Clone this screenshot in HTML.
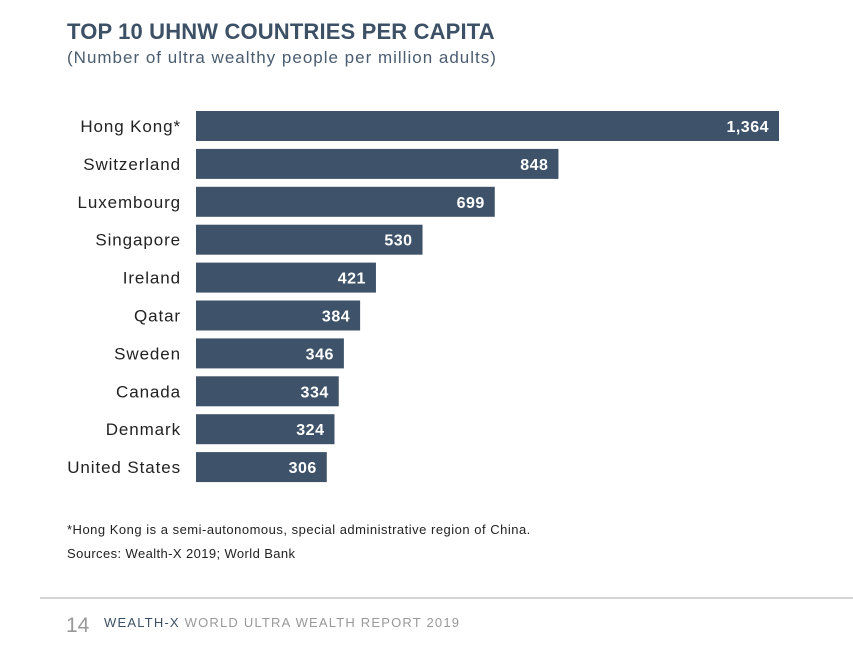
<!DOCTYPE html>
<html><head><meta charset="utf-8"><style>
body{margin:0;width:853px;height:650px;background:#fff;font-family:"Liberation Sans",sans-serif;overflow:hidden;position:relative}
.t{position:absolute;white-space:nowrap}
</style></head><body>
<div class="t" style="left:67px;top:19px;font-size:22px;font-weight:bold;color:#3d5166;letter-spacing:0.15px">TOP 10 UHNW COUNTRIES PER CAPITA</div>
<div class="t" style="left:67px;top:48px;font-size:17px;color:#4a5d70;letter-spacing:1px">(Number of ultra wealthy people per million adults)</div>
<svg id="chart" width="853" height="500" style="position:absolute;left:0;top:0"></svg>
<div class="t" style="left:67px;top:522px;font-size:13px;color:#222;letter-spacing:0.5px">*Hong Kong is a semi-autonomous, special administrative region of China.</div>
<div class="t" style="left:67px;top:546px;font-size:13px;color:#222;letter-spacing:0.4px">Sources: Wealth-X 2019; World Bank</div>
<div style="position:absolute;left:40px;top:597px;width:813px;height:2px;background:#d5d5d5"></div>
<div class="t" style="left:66px;top:614px;font-size:21px;color:#999">14</div>
<div class="t" style="left:104px;top:615px;font-size:13px;letter-spacing:1.2px;color:#999"><span style="color:#3d5166">WEALTH-X</span> WORLD ULTRA WEALTH REPORT 2019</div>
<script>
const categories=["Hong Kong*","Switzerland","Luxembourg","Singapore","Ireland","Qatar","Sweden","Canada","Denmark","United States"];
const values=[1364,848,699,530,421,384,346,334,324,306];
const valueLabels=["1,364","848","699","530","421","384","346","334","324","306"];
const svg=document.getElementById('chart');
const NS='http://www.w3.org/2000/svg';
const x0=196, scale=583/1364;
function xPos(v){return x0+v*scale;}
function yPos(i){return 111+i*37.9;}
const bh=30;
categories.forEach((c,i)=>{
  const y=yPos(i);
  const r=document.createElementNS(NS,'rect');
  r.setAttribute('x',x0);r.setAttribute('y',y);
  r.setAttribute('width',xPos(values[i])-x0);r.setAttribute('height',bh);
  r.setAttribute('fill','#3e5369');
  
  
  svg.appendChild(r);
  const l=document.createElementNS(NS,'text');
  l.setAttribute('x',181);l.setAttribute('y',y+bh/2+6);
  l.setAttribute('text-anchor','end');l.setAttribute('font-size','17');l.setAttribute('fill','#222');
  l.setAttribute('letter-spacing','0.9');
  l.textContent=c;
  
  
  svg.appendChild(l);
  const v=document.createElementNS(NS,'text');
  v.setAttribute('x',xPos(values[i])-10);v.setAttribute('y',y+bh/2+6);
  v.setAttribute('text-anchor','end');v.setAttribute('font-size','16');v.setAttribute('font-weight','bold');v.setAttribute('fill','#fff');
  v.setAttribute('letter-spacing','0.5');
  v.textContent=valueLabels[i];
  
  
  svg.appendChild(v);
});
</script>
</body></html>
